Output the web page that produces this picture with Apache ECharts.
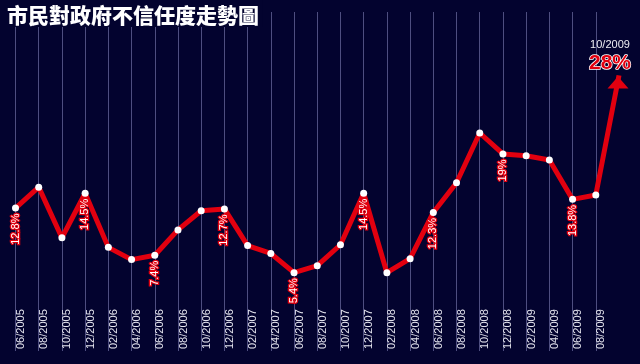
<!DOCTYPE html>
<html>
<head>
<meta charset="utf-8">
<script src="https://cdn.jsdelivr.net/npm/echarts@6/dist/echarts.min.js"></script>
<style>
html,body{margin:0;padding:0;background:#03032f;}
#chart{width:640px;height:364px;}
</style>
</head>
<body>
<div id="chart"></div>
<script>
var titleText = '市民對政府不信任度走勢圖';
var categories = ['06/2005','08/2005','10/2005','12/2005','02/2006','04/2006','06/2006','08/2006','10/2006','12/2006',
  '02/2007','04/2007','06/2007','08/2007','10/2007','12/2007','02/2008','04/2008','06/2008','08/2008',
  '10/2008','12/2008','02/2009','04/2009','06/2009','08/2009','10/2009'];
var values = [12.8, 15.2, 9.4, 14.5, 8.3, 6.9, 7.4, 10.3, 12.5, 12.7,
  8.5, 7.6, 5.4, 6.2, 8.6, 14.5, 5.4, 7.0, 12.3, 15.7,
  21.4, 19.0, 18.8, 18.3, 13.8, 14.3];
var pointLabels = ['12.8%','','','14.5%','','','7.4%','','','12.7%',
  '','','5.4%','','','14.5%','','','12.3%','',
  '','19%','','','13.8%',''];
var latestCategory = '10/2009';
var latestValue = 28;
var latestLabel = '28%';

var RED = '#e2000f';
var BG = '#03032f';
var FONT = '"Liberation Sans", Arial, sans-serif';

var lineData = values.map(function (v, i) {
  var item = { value: v };
  if (pointLabels[i]) {
    item.label = {
      show: true,
      formatter: pointLabels[i],
      position: 'bottom',
      distance: 2,
      rotate: 90,
      align: 'right',
      verticalAlign: 'middle',
      color: '#ffffff',
      fontSize: 11,
      fontFamily: FONT,
      textBorderColor: RED,
      textBorderWidth: 2.5
    };
  }
  return item;
});
// latest point drawn as the arrow head
lineData.push({
  value: latestValue,
  symbol: 'triangle',
  symbolSize: [21, 12],
  symbolOffset: [-1, 7],
  itemStyle: { color: RED },
  label: {
    show: true,
    position: 'top',
    distance: 3,
    offset: [-8, 0],
    formatter: '{a|' + latestCategory + '}\n{b|' + latestLabel + '}',
    rich: {
      a: { color: '#eeeef4', fontSize: 11, fontFamily: FONT, lineHeight: 16, align: 'center' },
      b: { color: RED, fontSize: 21, fontWeight: 'bold', fontFamily: FONT, textBorderColor: '#ffffff', textBorderWidth: 1.5, lineHeight: 20, align: 'center' }
    }
  }
});

var chart = echarts.init(document.getElementById('chart'), null, { renderer: 'canvas' });
chart.setOption({
  animation: false,
  backgroundColor: BG,
  title: {
    text: titleText,
    left: 3,
    top: 0,
    padding: [5, 4, 1, 4],
    backgroundColor: BG,
    textStyle: {
      color: '#ffffff',
      fontSize: 21,
      fontWeight: 900,
      fontFamily: '"Noto Sans CJK TC", sans-serif'
    }
  },
  grid: { left: 15.5, right: 21, top: 12, bottom: 13 },
  xAxis: {
    type: 'category',
    data: categories,
    boundaryGap: false,
    axisLine: { show: false },
    axisTick: { show: false },
    axisLabel: {
      inside: true,
      rotate: 90,
      margin: 2,
      verticalAlign: 'top',
      color: '#e4e4ee',
      fontSize: 11,
      fontFamily: FONT,
      interval: function (idx) { return idx < categories.length - 1; }
    },
    splitLine: {
      show: true,
      interval: function (idx) { return idx < categories.length - 1; },
      lineStyle: { color: '#4e4e80', width: 1 }
    }
  },
  yAxis: {
    type: 'value',
    min: -3.57,
    max: 35.26,
    show: false,
    splitLine: { show: false }
  },
  series: [
    {
      type: 'line',
      data: lineData,
      z: 3,
      symbol: 'circle',
      symbolSize: 7,
      itemStyle: { color: '#ffffff' },
      lineStyle: { color: RED, width: 5 },
      label: { show: false }
    }
  ]
});
</script>
</body>
</html>
